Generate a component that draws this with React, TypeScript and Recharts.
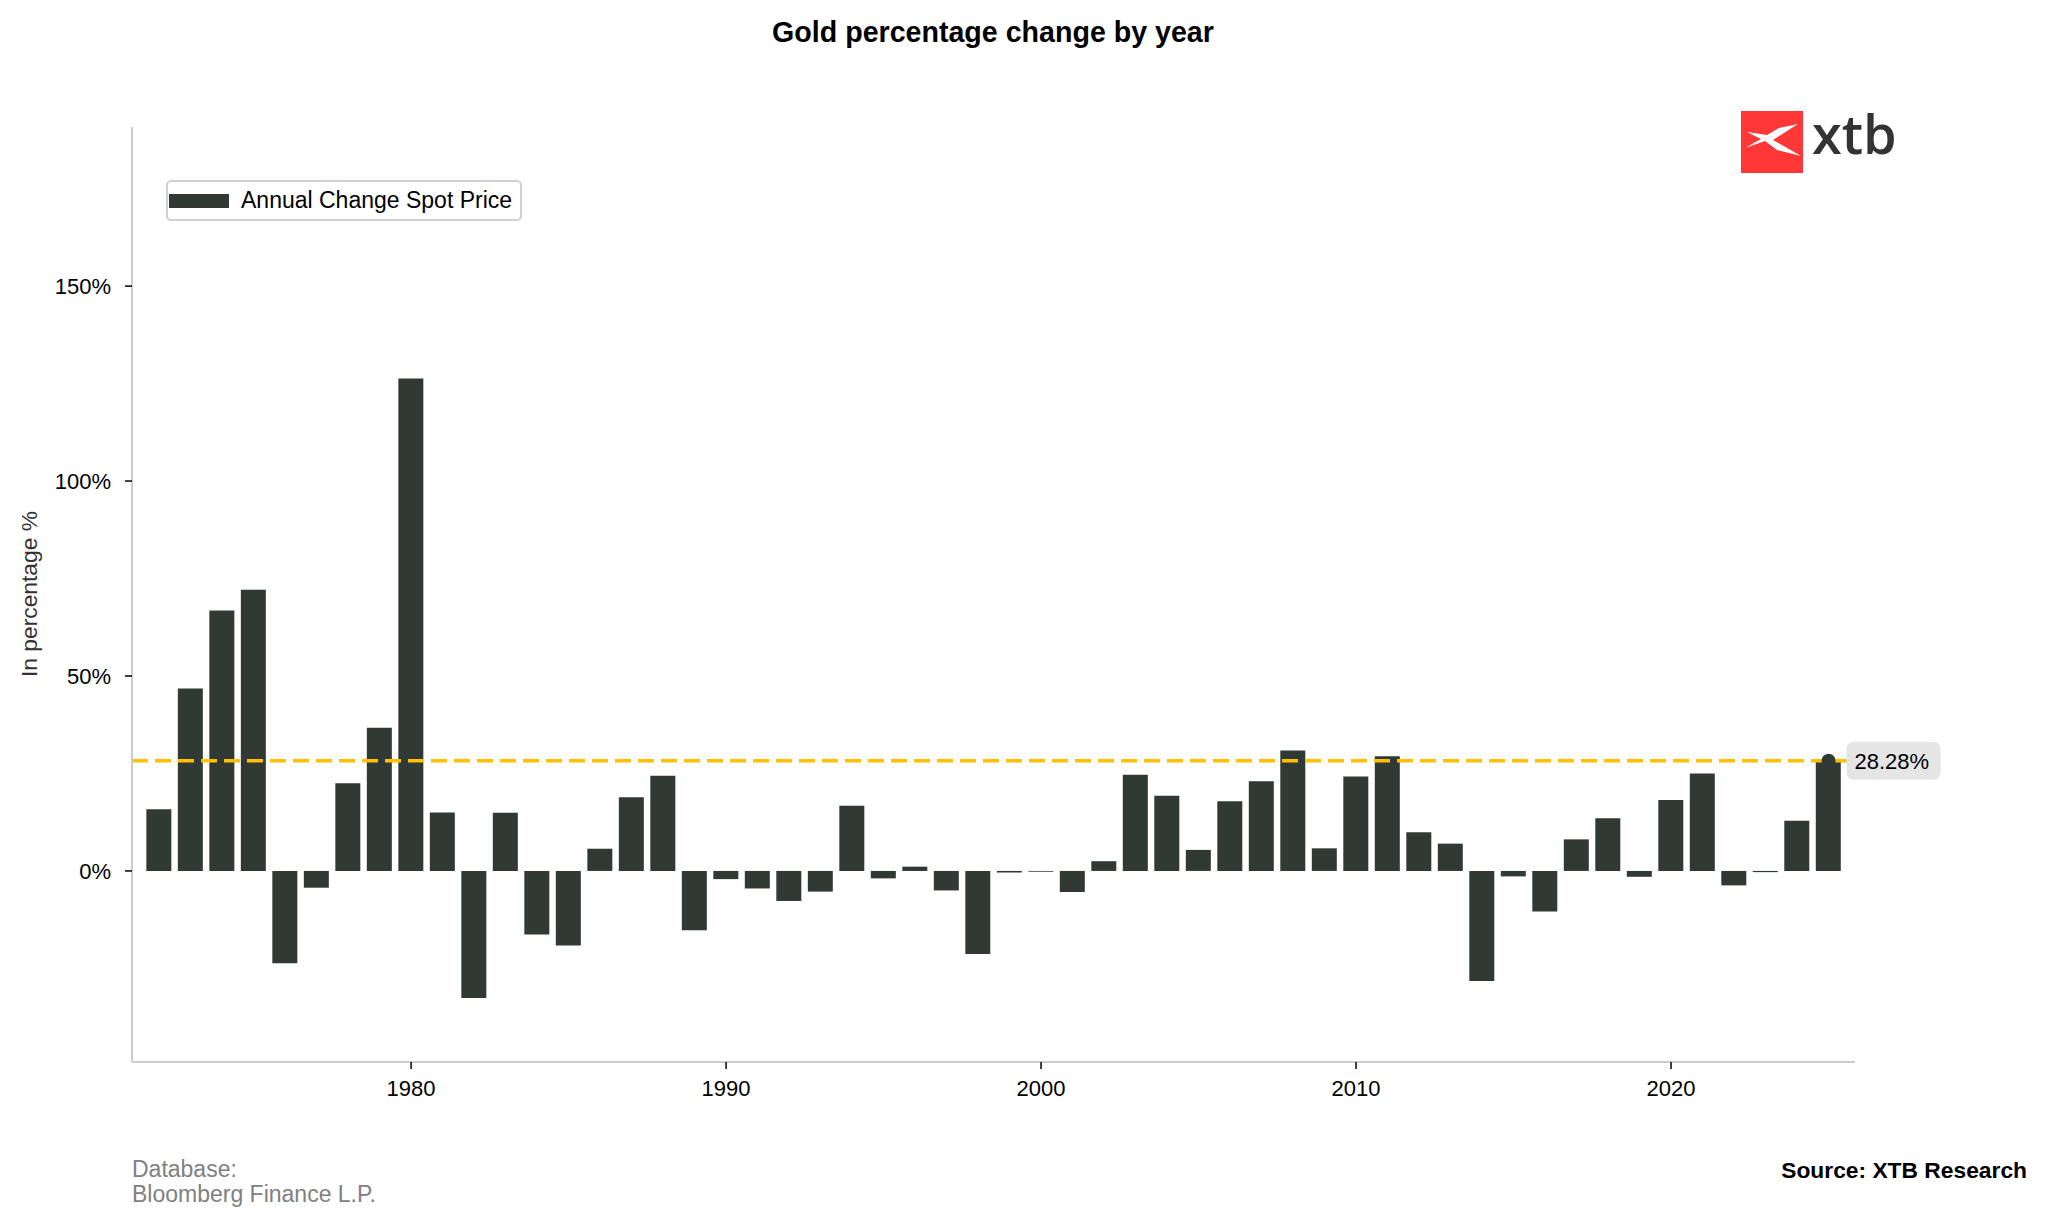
import {
  ComposedChart,
  Bar,
  XAxis,
  YAxis,
  ReferenceLine,
  ReferenceDot,
  Legend,
} from 'recharts';

const YEARS = [
  1972, 1973, 1974, 1975, 1976, 1977, 1978, 1979, 1980, 1981,
  1982, 1983, 1984, 1985, 1986, 1987, 1988, 1989, 1990, 1991,
  1992, 1993, 1994, 1995, 1996, 1997, 1998, 1999, 2000, 2001,
  2002, 2003, 2004, 2005, 2006, 2007, 2008, 2009, 2010, 2011,
  2012, 2013, 2014, 2015, 2016, 2017, 2018, 2019, 2020, 2021,
  2022, 2023, 2024, 2025,
];

// annual change of gold spot price, %
const CHANGES = [
  15.8, 46.8, 66.8, 72.1, -23.7, -4.3, 22.5, 36.7, 126.3, 15.0,
  -32.6, 14.9, -16.3, -19.1, 5.7, 18.9, 24.4, -15.2, -2.1, -4.5,
  -7.7, -5.3, 16.7, -1.9, 1.1, -5.0, -21.3, -0.4, -0.2, -5.4,
  2.5, 24.7, 19.3, 5.4, 17.9, 23.0, 30.9, 5.8, 24.2, 29.4,
  9.9, 7.0, -28.2, -1.4, -10.4, 8.1, 13.5, -1.5, 18.2, 25.0,
  -3.7, -0.3, 12.9, 28.28,
];

const X_TICKS = [1980, 1990, 2000, 2010, 2020];
const Y_TICKS = [0, 50, 100, 150];

const SERIES_NAME = 'Annual Change Spot Price';
const LAST_YEAR = YEARS[YEARS.length - 1];
const LAST_VALUE = CHANGES[CHANGES.length - 1];

const BAR_COLOR = '#313935';
const FONT = '"Liberation Sans", Arial, Helvetica, sans-serif';

const data = YEARS.map((year, i) => ({ year, change: CHANGES[i] }));

function LegendBox() {
  return (
    <div
      style={{
        display: 'flex',
        alignItems: 'center',
        height: 37,
        padding: '0 8px 0 1px',
        border: '2px solid #d0d0d0',
        borderRadius: 5,
        background: '#fff',
        fontFamily: FONT,
        fontSize: 23,
        color: '#000',
        whiteSpace: 'nowrap',
      }}
    >
      <span style={{ display: 'inline-block', width: 60, height: 14, background: BAR_COLOR, marginRight: 12 }} />
      {SERIES_NAME}
    </div>
  );
}

function PriceTag(props: any) {
  const vb = props.viewBox || {};
  const cx = vb.x + vb.width / 2;
  const cy = vb.y + vb.height / 2;
  const left = cx + 18;
  return (
    <g>
      <rect x={left} y={cy - 19} width={94} height={38} rx={7} fill="#e5e5e5" />
      <text x={left + 8} y={cy + 8} fontSize={22} fontFamily={FONT} fill="#000">
        {`${LAST_VALUE.toFixed(2)}%`}
      </text>
    </g>
  );
}

function Logo() {
  return (
    <>
      <svg width={62} height={62} style={{ position: 'absolute', left: 1741, top: 111 }}>
        <rect x={0} y={0} width={62} height={62} fill="#ff3737" />
        <polygon
          points="57,13 32,29 60,45 36,39 24,30 4,37 20,28 6,21 26,24 38,17"
          fill="#ffffff"
        />
      </svg>
      <div
        style={{
          position: 'absolute',
          left: 1812,
          top: 96,
          fontSize: 54,
          lineHeight: '74px',
          fontWeight: 600,
          fontFamily: '"Open Sans", sans-serif',
          color: '#333333',
          whiteSpace: 'nowrap',
        }}
      >
        xtb
      </div>
    </>
  );
}

export default function App() {
  return (
    <div
      style={{
        position: 'absolute',
        left: 0,
        top: 0,
        width: 2048,
        height: 1226,
        background: '#fff',
        fontFamily: FONT,
        overflow: 'hidden',
      }}
    >
      <div
        style={{
          position: 'absolute',
          left: 0,
          width: 1986,
          top: 16,
          textAlign: 'center',
          fontSize: 28.6,
          fontWeight: 700,
          color: '#000',
        }}
      >
        Gold percentage change by year
      </div>

      <ComposedChart
        width={2048}
        height={1226}
        data={data}
        margin={{ top: 127, right: 193, bottom: 124, left: 52 }}
        style={{ position: 'absolute', left: 0, top: 0 }}
      >
        <XAxis
          dataKey="year"
          type="number"
          domain={[1971.14, 2025.84]}
          allowDataOverflow
          ticks={X_TICKS}
          height={40}
          axisLine={{ stroke: '#cccccc', strokeWidth: 2 }}
          tickLine={{ stroke: '#000', strokeWidth: 1.5 }}
          tickSize={7}
          tickMargin={11}
          tick={{ fill: '#000', fontSize: 22, fontFamily: FONT }}
        />
        <YAxis
          type="number"
          domain={[-49, 190.8]}
          allowDataOverflow
          ticks={Y_TICKS}
          width={80}
          axisLine={{ stroke: '#cccccc', strokeWidth: 2 }}
          tickLine={{ stroke: '#000', strokeWidth: 1.5 }}
          tickSize={7}
          tickMargin={14}
          tickFormatter={(v) => `${v}%`}
          tick={{ fill: '#000', fontSize: 22, fontFamily: FONT }}
        />
        <Legend
          layout="vertical"
          align="center"
          verticalAlign="middle"
          wrapperStyle={{ left: 166, top: 180, width: 'auto' }}
          content={() => <LegendBox />}
        />
        <Bar dataKey="change" name={SERIES_NAME} fill={BAR_COLOR} barSize={25} isAnimationActive={false} />
        <ReferenceDot x={LAST_YEAR} y={LAST_VALUE} r={7} fill={BAR_COLOR} stroke="none" />
        <ReferenceLine y={LAST_VALUE} stroke="#ffc000" strokeWidth={3.5} strokeDasharray="16 7" />
        <ReferenceDot x={LAST_YEAR} y={LAST_VALUE} r={0} fill="none" stroke="none" label={<PriceTag />} />
      </ComposedChart>

      <div
        style={{
          position: 'absolute',
          left: 12,
          top: 594,
          transform: 'translate(-50%, -50%) rotate(-90deg)',
          transformOrigin: 'center',
          marginLeft: 17,
          fontSize: 22.8,
          color: '#333',
          whiteSpace: 'nowrap',
        }}
      >
        In percentage %
      </div>

      <Logo />

      <div style={{ position: 'absolute', left: 132, top: 1157, fontSize: 23, lineHeight: '25px', color: '#808080' }}>
        Database:
        <br />
        Bloomberg Finance L.P.
      </div>
      <div
        style={{
          position: 'absolute',
          right: 21,
          top: 1157,
          fontSize: 22.8,
          fontWeight: 700,
          color: '#000',
        }}
      >
        Source: XTB Research
      </div>
    </div>
  );
}
